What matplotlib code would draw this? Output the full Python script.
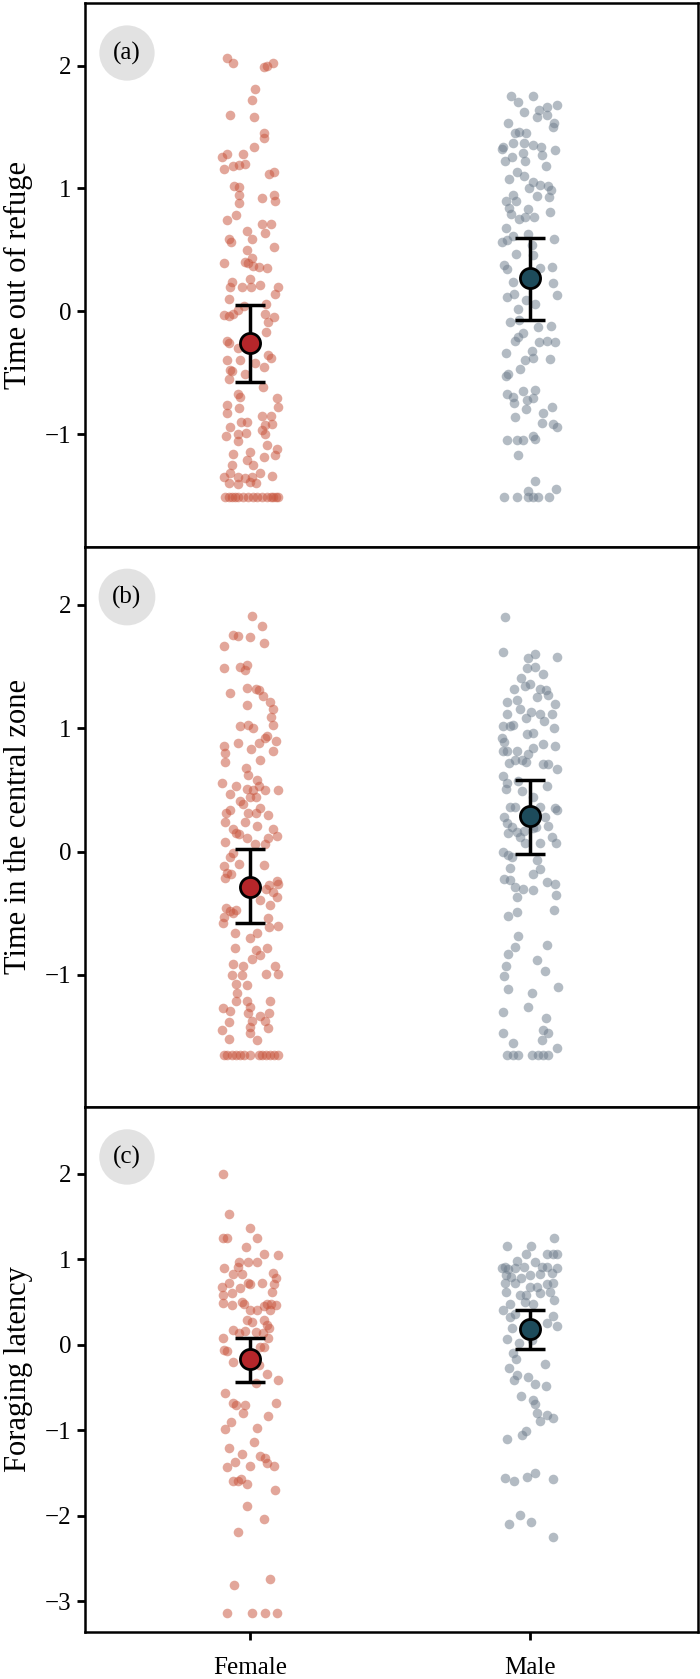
import matplotlib
matplotlib.use('Agg')
import matplotlib.pyplot as plt

plt.rcParams['font.family'] = ['Liberation Serif', 'DejaVu Serif']

groups = ['Female', 'Male']
ylabels = ['Time out of refuge', 'Time in the central zone', 'Foraging latency']
tags = ['(a)', '(b)', '(c)']

# panel (a) - time out of refuge
a_f_y = [2.06, 2.02, 1.99, 2.00, 2.02, 1.81, 1.72, 1.60, 1.58, 1.45, 1.41, 1.34, 1.26, 1.28, 1.28, 1.16,
         1.18, 1.19, 1.20, 1.12, 1.13, 1.02, 1.01, 0.95, 0.88, 0.92, 0.95, 0.90, 0.78, 0.74, 0.71, 0.71,
         0.65, 0.64, 0.59, 0.59, 0.56, 0.52, 0.50, 0.43, 0.39, 0.40, 0.39, 0.37, 0.36, 0.35, 0.24, 0.20,
         0.20, 0.26, 0.20, 0.21, 0.20, 0.14, 0.10, 0.01, 0.04, 0.06, -0.03, -0.04, -0.02, -0.02, -0.05,
         -0.09, -0.17, -0.24, -0.26, -0.30, -0.36, -0.38, -0.40, -0.40, -0.48, -0.49, -0.45, -0.55, -0.42,
         -0.51, -0.62, -0.67, -0.70, -0.71, -0.78, -0.76, -0.79, -0.83, -0.85, -0.85, -0.90, -0.90, -0.93,
         -0.92, -0.94, -1.02, -1.00, -0.99, -0.97, -1.00, -1.06, -1.09, -1.12, -1.17, -1.16, -1.15, -1.21,
         -1.19, -1.25, -1.25, -1.35, -1.32, -1.35, -1.36, -1.32, -1.34, -1.39, -1.40, -1.40, -1.41, -1.35,
         -1.51, -1.51, -1.51, -1.51, -1.51, -1.51, -1.51, -1.51, -1.51, -1.51, -1.51, -1.51, -1.51, -1.51, -1.51]
a_f_jit = [-0.083, -0.062, 0.048, 0.062, 0.083, 0.018, 0.006, -0.071, 0.014, 0.048, 0.050, 0.014, -0.100, -0.081,
           -0.026, -0.093, -0.060, -0.038, -0.018, 0.068, 0.086, -0.057, -0.038, -0.038, -0.038, 0.043, 0.086,
           0.089, -0.050, -0.081, 0.044, 0.074, -0.012, 0.054, 0.006, -0.075, -0.067, 0.086, -0.012, 0.006,
           -0.092, -0.020, -0.006, 0.012, 0.030, 0.062, -0.065, -0.071, -0.030, 0.000, 0.002, 0.036, 0.100,
           0.089, -0.074, -0.044, -0.021, 0.057, -0.093, -0.077, -0.060, 0.054, 0.086, 0.065, 0.057, -0.083,
           -0.074, -0.042, 0.065, 0.074, -0.081, -0.036, -0.071, -0.065, 0.048, -0.074, 0.018, -0.018, 0.045,
           -0.042, -0.036, 0.095, 0.100, -0.081, -0.038, -0.081, 0.042, 0.074, -0.033, -0.012, 0.054, 0.077,
           -0.071, -0.086, -0.045, -0.014, 0.042, 0.054, -0.042, 0.060, 0.095, 0.089, -0.062, 0.000, -0.012,
           0.048, 0.012, -0.065, -0.095, -0.071, -0.042, -0.018, 0.036, 0.077, 0.000, 0.021, -0.077, -0.045,
           0.006, -0.089, -0.077, -0.065, -0.054, -0.042, -0.024, -0.006, 0.012, 0.024, 0.042, 0.060, 0.074,
           0.083, 0.093, 0.100]
a_m_y = [1.75, 1.75, 1.70, 1.62, 1.58, 1.64, 1.66, 1.68, 1.60, 1.53, 1.53, 1.50, 1.46, 1.45, 1.45, 1.34,
         1.37, 1.37, 1.35, 1.34, 1.29, 1.32, 1.31, 1.22, 1.26, 1.22, 1.27, 1.18, 1.13, 1.08, 1.10, 1.05,
         1.03, 1.00, 0.94, 1.02, 0.99, 0.93, 0.90, 0.95, 0.90, 0.84, 0.79, 0.83, 0.77, 0.81, 0.75, 0.77,
         0.68, 0.56, 0.58, 0.61, 0.63, 0.54, 0.59, 0.46, 0.47, 0.38, 0.34, 0.35, 0.36, 0.24, 0.23, 0.13,
         0.12, 0.14, 0.06, 0.09, 0.02, -0.09, -0.07, -0.13, -0.12, -0.18, -0.21, -0.24, -0.25, -0.24, -0.25,
         -0.34, -0.32, -0.38, -0.40, -0.47, -0.39, -0.51, -0.53, -0.67, -0.70, -0.75, -0.65, -0.72, -0.64,
         -0.71, -0.86, -0.80, -0.83, -0.78, -0.91, -0.92, -0.94, -1.05, -1.05, -1.05, -1.02, -1.04, -1.17,
         -1.38, -1.51, -1.51, -1.51, -1.51, -1.51, -1.51, -1.45, -1.46]
a_m_jit = [-0.069, 0.012, -0.042, -0.021, 0.024, 0.033, 0.060, 0.095, 0.060, -0.077, 0.086, 0.083, -0.038,
           -0.054, -0.014, -0.095, -0.062, -0.021, 0.010, 0.040, -0.024, -0.100, 0.089, -0.090, -0.065, -0.017,
           0.043, 0.056, -0.048, -0.076, -0.021, 0.010, 0.036, -0.005, 0.026, 0.065, 0.074, 0.069, -0.086,
           -0.060, -0.050, -0.075, -0.068, -0.006, 0.014, 0.071, -0.040, -0.017, -0.086, -0.100, -0.083,
           -0.060, -0.008, 0.006, 0.087, 0.010, -0.050, -0.093, -0.081, 0.036, 0.077, -0.060, 0.083, 0.095,
           -0.081, -0.057, 0.017, -0.015, -0.044, -0.071, -0.039, 0.030, 0.074, -0.024, -0.042, -0.054, 0.033,
           0.060, 0.089, -0.086, 0.006, 0.012, -0.017, -0.036, 0.071, -0.077, -0.087, -0.081, -0.062, -0.057,
           -0.024, -0.010, 0.017, 0.010, -0.052, -0.014, 0.048, 0.077, 0.042, 0.083, 0.098, -0.083, -0.048,
           -0.026, 0.012, 0.018, -0.042, 0.018, -0.093, -0.048, -0.006, 0.010, 0.030, 0.069, 0.093, -0.006]

# panel (b) - time in the central zone
b_f_y = [1.91, 1.83, 1.76, 1.75, 1.74, 1.67, 1.69, 1.49, 1.50, 1.51, 1.47, 1.29, 1.33, 1.32, 1.31, 1.26,
         1.19, 1.21, 1.16, 1.09, 1.03, 1.02, 1.03, 1.00, 0.94, 0.92, 0.90, 0.88, 0.86, 0.80, 0.73, 0.83,
         0.88, 0.82, 0.74, 0.68, 0.62, 0.58, 0.56, 0.53, 0.51, 0.50, 0.53, 0.50, 0.50, 0.44, 0.44, 0.47,
         0.41, 0.39, 0.35, 0.31, 0.31, 0.30, 0.34, 0.31, 0.24, 0.24, 0.21, 0.18, 0.15, 0.14, 0.18, 0.13,
         0.11, 0.11, 0.08, 0.06, 0.06, -0.01, -0.04, -0.10, -0.11, -0.12, -0.17, -0.21, -0.18, -0.24, -0.26,
         -0.27, -0.30, -0.33, -0.39, -0.37, -0.43, -0.46, -0.48, -0.50, -0.53, -0.47, -0.58, -0.54, -0.60,
         -0.61, -0.66, -0.66, -0.70, -0.78, -0.78, -0.80, -0.84, -0.87, -0.93, -0.91, -0.93, -0.99, -0.99,
         -1.00, -1.00, -1.07, -1.08, -1.15, -1.21, -1.21, -1.26, -1.21, -1.27, -1.29, -1.31, -1.31, -1.33,
         -1.37, -1.37, -1.38, -1.42, -1.43, -1.45, -1.47, -1.53, -1.52,
         -1.65, -1.65, -1.65, -1.65, -1.65, -1.65, -1.65, -1.65, -1.65, -1.65, -1.65, -1.65, -1.65]
b_f_jit = [0.006, 0.042, -0.060, -0.045, 0.000, -0.095, 0.050, -0.095, -0.036, -0.012, -0.018, -0.071, -0.012,
           0.021, 0.030, 0.045, -0.012, 0.071, 0.081, 0.074, 0.083, -0.036, -0.006, 0.012, 0.060, 0.054, 0.093,
           -0.045, -0.093, -0.089, -0.089, 0.004, 0.030, 0.080, 0.036, -0.014, -0.006, 0.024, -0.100, -0.050,
           -0.010, 0.010, 0.030, 0.054, 0.098, 0.000, 0.021, -0.071, -0.036, -0.024, 0.036, 0.021, -0.006,
           0.065, -0.071, -0.086, -0.089, -0.018, 0.026, -0.062, -0.050, -0.038, 0.083, 0.095, 0.065, -0.012,
           -0.089, 0.018, 0.054, -0.062, -0.071, -0.038, 0.048, -0.095, -0.081, -0.089, -0.069, 0.095, 0.100,
           0.069, 0.057, 0.081, 0.036, 0.095, 0.071, -0.086, -0.071, -0.060, -0.093, -0.050, -0.098, 0.065,
           0.099, 0.069, -0.054, 0.026, 0.000, -0.054, 0.060, 0.021, 0.036, 0.006, 0.089, -0.062, -0.026,
           0.100, 0.057, -0.065, -0.030, -0.050, -0.010, -0.048, -0.050, -0.012, 0.000, 0.071, -0.098, -0.071,
           -0.006, 0.069, 0.036, 0.006, 0.054, -0.077, -0.002, 0.065, -0.100, 0.000, 0.024, -0.074,
           -0.093, -0.081, -0.065, -0.050, -0.036, -0.021, 0.000, 0.030, 0.042, 0.057, 0.071, 0.086, 0.100]
b_m_y = [1.90, 1.62, 1.57, 1.60, 1.58, 1.49, 1.50, 1.44, 1.41, 1.32, 1.34, 1.36, 1.32, 1.31, 1.27, 1.25,
         1.20, 1.21, 1.23, 1.16, 1.13, 1.08, 1.12, 1.12, 1.06, 1.12, 1.02, 1.02, 1.03, 0.92, 0.89, 0.82,
         0.82, 0.82, 0.95, 0.96, 0.84, 0.87, 1.00, 0.86, 0.79, 0.74, 0.73, 0.72, 0.74, 0.71, 0.71, 0.67,
         0.61, 0.56, 0.51, 0.57, 0.49, 0.44, 0.53, 0.36, 0.36, 0.28, 0.23, 0.20, 0.16, 0.17, 0.15, 0.12,
         0.07, 0.36, 0.28, 0.35, 0.34, 0.20, 0.21, 0.12, 0.07, 0.07, 0.19, 0.00, -0.03, -0.04, -0.13, -0.22,
         -0.23, -0.29, -0.37, -0.30, -0.31, -0.07, -0.18, -0.14, -0.25, -0.26, -0.35, -0.47, -0.52, -0.49,
         -0.68, -0.77, -0.83, -0.93, -1.01, -1.11, -0.76, -0.88, -0.97, -1.10, -1.15, -1.26, -1.30, -1.35,
         -1.45, -1.47, -1.47, -1.55, -1.53, -1.65, -1.65, -1.65, -1.65, -1.65, -1.65, -1.65, -1.59]
b_m_jit = [-0.089, -0.095, -0.006, 0.018, 0.095, -0.012, 0.018, 0.048, -0.033, -0.057, -0.018, 0.000, 0.036,
           0.057, 0.065, 0.026, 0.089, -0.083, -0.045, -0.036, 0.002, -0.014, 0.036, 0.077, 0.050, -0.081,
           -0.095, -0.071, -0.060, -0.100, -0.093, -0.081, -0.098, -0.048, -0.010, 0.010, 0.010, 0.048, 0.086,
           0.089, -0.006, -0.030, -0.014, -0.074, -0.054, 0.045, 0.065, 0.095, -0.098, -0.081, -0.086, -0.042,
           -0.030, 0.010, 0.060, -0.071, -0.054, -0.093, -0.083, -0.065, -0.048, -0.021, -0.077, -0.036,
           -0.018, 0.036, 0.054, 0.089, 0.098, 0.021, 0.065, 0.077, 0.093, 0.036, 0.010, -0.098, -0.077,
           -0.065, -0.071, -0.093, -0.071, -0.054, -0.045, -0.024, 0.012, 0.024, 0.012, 0.036, 0.062, 0.089,
           0.093, 0.086, -0.077, -0.048, -0.042, -0.054, -0.077, -0.086, -0.093, -0.077, 0.060, 0.024, 0.054,
           0.100, 0.006, -0.006, -0.095, 0.057, 0.048, 0.065, -0.095, -0.062, 0.042, -0.081, -0.062, -0.042,
           0.006, 0.030, 0.048, 0.065, 0.095]

# panel (c) - foraging latency
c_f_y = [2.00, 1.53, 1.37, 1.25, 1.25, 1.25, 1.14, 1.06, 1.05, 0.90, 0.97, 0.97, 0.97, 0.91, 0.83, 0.83,
         0.84, 0.78, 0.71, 0.62, 0.72, 0.68, 0.72, 0.71, 0.72, 0.58, 0.60, 0.66, 0.49, 0.46, 0.50, 0.47,
         0.40, 0.40, 0.45, 0.47, 0.47, 0.46, 0.40, 0.29, 0.27, 0.29, 0.23, 0.19, 0.08, 0.17, 0.14, 0.16,
         0.15, 0.14, 0.08, -0.06, -0.07, -0.03, -0.03, -0.20, -0.24, -0.34, -0.41, -0.45, -0.56, -0.68,
         -0.71, -0.71, -0.80, -0.68, -0.83, -0.91, -0.99, -0.97, -1.14, -1.21, -1.28, -1.30, -1.33, -1.38,
         -1.42, -1.37, -1.43, -1.42, -1.59, -1.60, -1.57, -1.63, -1.70, -1.89, -2.04, -2.19, -2.74, -2.81,
         -3.14, -3.14, -3.14, -3.14]
c_f_jit = [-0.098, -0.074, -0.002, 0.024, -0.098, -0.081, -0.014, 0.048, 0.098, -0.095, -0.038, -0.006, 0.024,
           -0.045, -0.060, -0.030, 0.083, 0.093, 0.086, 0.077, -0.077, -0.100, -0.006, 0.000, 0.042, -0.098,
           -0.065, -0.036, -0.098, -0.065, -0.030, -0.021, 0.000, 0.024, 0.048, 0.060, 0.074, 0.093, 0.071,
           -0.012, 0.006, 0.048, 0.060, 0.069, -0.098, -0.060, -0.038, -0.018, 0.021, 0.045, 0.065, -0.093,
           -0.083, 0.036, 0.048, -0.060, 0.033, 0.060, 0.098, 0.021, -0.089, -0.062, -0.050, -0.018, -0.024,
           0.093, 0.065, -0.069, -0.089, 0.024, 0.014, -0.077, -0.030, 0.036, 0.054, 0.062, 0.086, -0.054,
           -0.083, 0.000, -0.062, -0.045, -0.033, -0.012, 0.089, -0.010, 0.048, -0.045, 0.071, -0.057,
           -0.083, 0.007, 0.053, 0.096]
c_m_y = [1.25, 1.15, 1.15, 1.06, 1.06, 1.06, 1.06, 0.98, 0.97, 0.90, 0.91, 0.88, 0.90, 0.91, 0.91, 0.91,
         0.90, 0.82, 0.79, 0.78, 0.82, 0.83, 0.84, 0.72, 0.72, 0.68, 0.68, 0.71, 0.72, 0.62, 0.58, 0.58,
         0.61, 0.62, 0.52, 0.50, 0.48, 0.40, 0.47, 0.36, 0.32, 0.34, 0.22, 0.25, 0.19, 0.07, 0.02, 0.05,
         -0.10, -0.17, -0.27, -0.23, -0.36, -0.41, -0.38, -0.46, -0.48, -0.60, -0.65, -0.69, -0.80, -0.89,
         -0.82, -0.86, -1.10, -1.06, -1.01, -1.56, -1.59, -1.55, -1.50, -1.57, -1.99, -2.10, -2.07, -2.25]
c_m_jit = [0.086, -0.081, 0.002, -0.014, 0.060, 0.083, 0.095, -0.045, 0.018, -0.100, -0.089, -0.077, -0.054,
           -0.021, 0.042, 0.060, 0.098, -0.086, -0.069, -0.033, 0.000, 0.036, 0.077, -0.089, -0.054, 0.000,
           0.024, 0.060, 0.081, -0.086, -0.036, -0.014, 0.036, 0.071, 0.086, -0.018, 0.012, -0.098, -0.071,
           -0.054, -0.071, 0.083, 0.095, 0.060, -0.065, -0.081, -0.038, 0.006, -0.060, -0.050, -0.074, 0.054,
           -0.048, -0.057, -0.006, 0.018, 0.057, -0.033, 0.010, 0.018, 0.024, 0.036, 0.060, 0.081, -0.083,
           -0.030, -0.014, -0.089, -0.057, -0.012, 0.017, 0.081, -0.036, -0.074, 0.004, 0.083]

# group means with lower / upper CI
means = [[-0.26, 0.27], [-0.285, 0.288], [-0.173, 0.189]]
ci_low = [[-0.58, -0.07], [-0.577, -0.015], [-0.434, -0.045]]
ci_high = [[0.05, 0.60], [0.023, 0.579], [0.076, 0.41]]

ylims = [(-1.92, 2.51), (-2.07, 2.47), (-3.36, 2.78)]
yticks = [[-1, 0, 1, 2], [-1, 0, 1, 2], [-3, -2, -1, 0, 1, 2]]

pt_cols = ['#c8553d', '#6e7d8c']
mean_cols = ['#b5262a', '#1d4b5b']

panels = [
    [(a_f_jit, a_f_y), (a_m_jit, a_m_y)],
    [(b_f_jit, b_f_y), (b_m_jit, b_m_y)],
    [(c_f_jit, c_f_y), (c_m_jit, c_m_y)],
]

fig = plt.figure(figsize=(7, 16.79), dpi=100)
rects = [[0.1214, 0.6742, 0.8757, 0.3240],
         [0.1214, 0.3407, 0.8757, 0.3335],
         [0.1214, 0.0280, 0.8757, 0.3127]]

for i, rect in enumerate(rects):
    ax = fig.add_axes(rect)
    for g in range(2):
        jit, ys = panels[i][g]
        xs = [g + 1 + j for j in jit]
        ax.scatter(xs, ys, s=48, color=pt_cols[g], alpha=0.52, linewidths=0, zorder=2)
    for g in range(2):
        m = means[i][g]
        err = [[m - ci_low[i][g]], [ci_high[i][g] - m]]
        ax.errorbar([g + 1], [m], yerr=err, fmt='none', ecolor='black', elinewidth=2.5,
                    capsize=11, capthick=2.5, zorder=3)
        ax.plot([g + 1], [m], 'o', ms=14.5, mfc=mean_cols[g], mec='black', mew=2, zorder=4)

    ax.set_xlim(0.41, 2.6)
    ax.set_ylim(*ylims[i])
    ax.set_yticks(yticks[i])
    ax.set_yticklabels([str(t).replace('-', '\u2212') for t in yticks[i]])
    ax.set_ylabel(ylabels[i], fontsize=22, labelpad=8)
    for sp in ax.spines.values():
        sp.set_linewidth(1.8)
        sp.set_color('black')
    ax.tick_params(axis='y', length=6, width=2, labelsize=18, pad=4)
    if i < 2:
        ax.set_xticks([])
    else:
        ax.set_xticks([1, 2])
        ax.set_xticklabels(groups)
        ax.tick_params(axis='x', length=6, width=2, labelsize=18, pad=12)

    ax.annotate(tags[i], xy=(0, 1), xycoords='axes fraction', xytext=(42, -50),
                textcoords='offset pixels', ha='center', va='center', fontsize=18,
                bbox=dict(boxstyle='circle,pad=0.55', fc='#e2e2e2', ec='none'))

fig.savefig('out.png', dpi=100)
